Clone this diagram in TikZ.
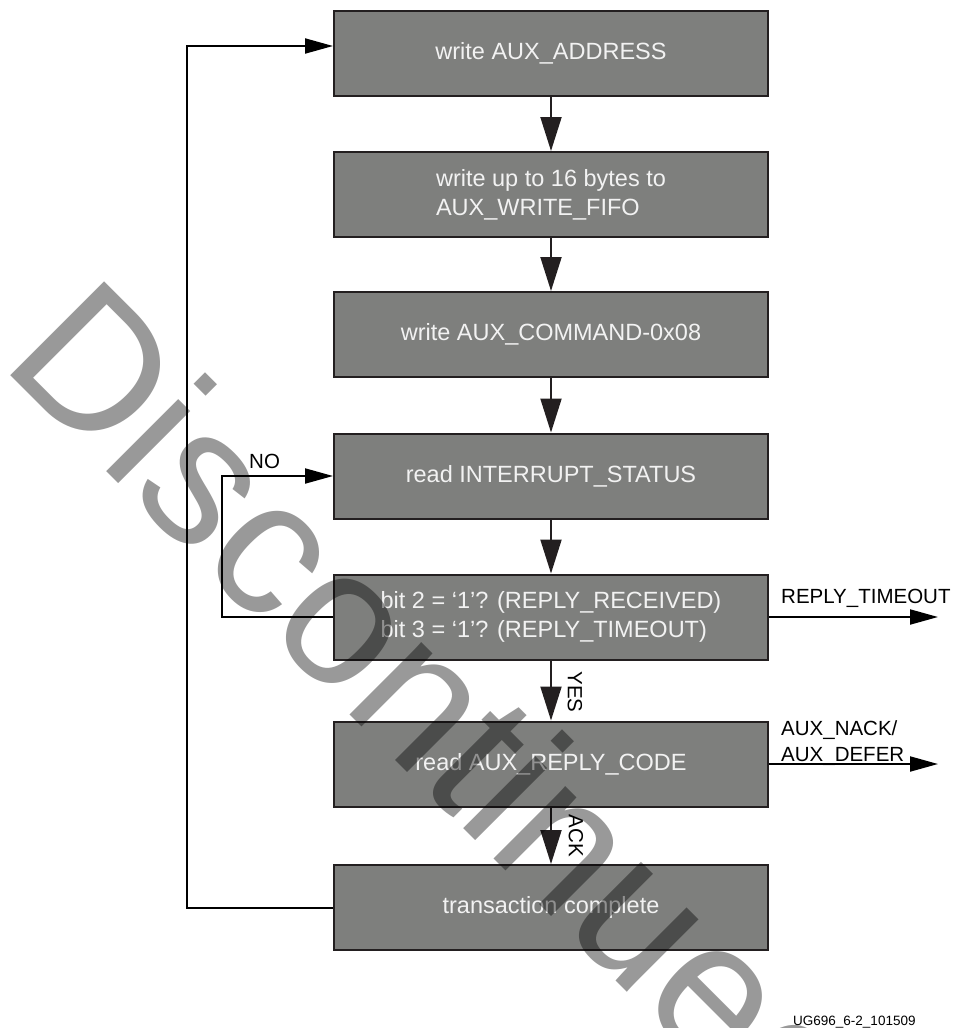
\documentclass[tikz,border=0pt]{standalone}
\usepackage{fontspec}
\setmainfont{Liberation Sans}
\usetikzlibrary{arrows.meta}
\definecolor{boxfill}{RGB}{126,127,125}
\definecolor{boxline}{RGB}{35,31,32}
\definecolor{boxtext}{RGB}{242,242,242}
\begin{document}
\begin{tikzpicture}[x=1pt,y=-1pt,
  stepbox/.style={draw=boxline, line width=2pt, fill=boxfill, text=boxtext,
    minimum width=434pt, minimum height=85pt, inner sep=0pt,
    font=\fontsize{23.5}{29}\selectfont, align=left},
  flow/.style={line width=2pt, draw=boxline, -{Triangle[length=34pt,width=21pt]}},
  side/.style={line width=2pt, -{Triangle[length=28pt,width=15pt]}},
  lbl/.style={font=\fontsize{20.5}{26}\selectfont, inner sep=0pt},
]
\useasboundingbox (0,0) rectangle (956,1028);
\clip (0,0) rectangle (956,1028);

% process steps
\node[stepbox] (wa) at (551,53)    {write AUX\_ADDRESS};
\node[stepbox] (wf) at (551,194.5) {write up to 16 bytes to\\AUX\_WRITE\_FIFO};
\node[stepbox] (wc) at (551,334.5) {write AUX\_COMMAND-0x08};
\node[stepbox] (ri) at (551,476)   {read INTERRUPT\_STATUS};
\node[stepbox] (rr) at (551,617)   {bit 2 = ‘1’? (REPLY\_RECEIVED)\\bit 3 = ‘1’? (REPLY\_TIMEOUT)};
\node[stepbox] (rc) at (551,764)   {read AUX\_REPLY\_CODE};
\node[stepbox] (tc) at (551,907.5) {transaction complete};

% main flow
\draw[flow] (wa.south) -- (wf.north);
\draw[flow] (wf.south) -- (wc.north);
\draw[flow] (wc.south) -- (ri.north);
\draw[flow] (ri.south) -- (rr.north);
\draw[flow] (rr.south) -- (rc.north);
\draw[flow] (rc.south) -- (tc.north);
\node[lbl, rotate=-90] (yes) at (575,692) {YES};
\node[lbl, rotate=-90] (ack) at (576,836) {ACK};

% restart loop
\coordinate (loopL) at (187,0);
\coordinate (waIn) at ([yshift=7pt]wa.west);
\draw[side] (tc.west) -- (tc.west -| loopL) -- (waIn -| loopL) -- (waIn);

% polling loop
\coordinate (noL) at (222,0);
\draw[side] (rr.west) -- (rr.west -| noL) -- (ri.west -| noL) -- (ri.west);
\node[lbl, anchor=base west] (no) at (249,468) {NO};

% exits
\coordinate (outR) at (938,0);
\draw[side] (rr.east) -- (rr.east -| outR);
\node[lbl, anchor=base west] (tmo) at (781,603) {REPLY\_TIMEOUT};
\draw[side] (rc.east) -- (rc.east -| outR);
\node[lbl, anchor=base west, align=left] (nack) at (781,761) {AUX\_NACK/\\AUX\_DEFER};

\node[font=\fontsize{13.5}{16}\selectfont, anchor=base west, inner sep=0pt] (fig) at (793,1025) {UG696\_6-2\_101509};

% status stamp
\node[rotate=-45, anchor=base west, inner sep=0pt, font=\fontsize{193}{193}\selectfont,
  text=black, text opacity=0.4] (stamp) at (-1,364) {Discontinued};
\end{tikzpicture}
\end{document}
